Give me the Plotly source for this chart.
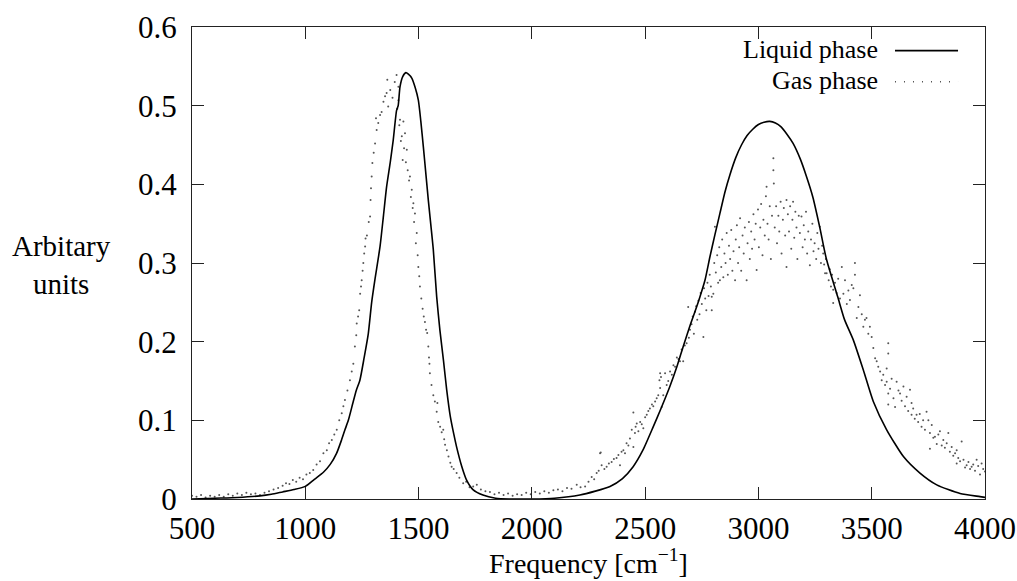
import plotly.graph_objects as go

# ---------------- data ----------------
liquid_x = [500, 600, 700, 800, 850, 900, 950, 1000, 1040, 1080, 1110, 1138, 1160, 1175, 1190,
            1210, 1225, 1241, 1260, 1278, 1293, 1308, 1330, 1345, 1359, 1375, 1388, 1403, 1410,
            1418, 1430, 1444, 1455, 1470, 1485, 1499, 1510, 1521, 1532, 1543, 1555, 1565, 1580,
            1594, 1610, 1624, 1640, 1655, 1668, 1690, 1712, 1740, 1784, 1840, 1900, 2000, 2100,
            2212, 2280, 2345, 2400, 2447, 2490, 2536, 2570, 2609, 2640, 2668, 2700, 2727, 2742,
            2764, 2786, 2808, 2830, 2852, 2874, 2900, 2925, 2950, 2975, 3000, 3025, 3050, 3075,
            3100, 3125, 3153, 3185, 3212, 3240, 3271, 3300, 3350, 3380, 3419, 3463, 3507, 3566, 3640,
            3713, 3787, 3890, 3978, 4000]
liquid_y = [0.000, 0.001, 0.002, 0.004, 0.006, 0.009, 0.012, 0.016, 0.025, 0.034, 0.044, 0.058, 0.075, 0.088, 0.100,
            0.122, 0.138, 0.151, 0.180, 0.210, 0.250, 0.280, 0.321, 0.360, 0.397, 0.428, 0.456, 0.494, 0.500,
            0.524, 0.537, 0.542, 0.540, 0.535, 0.523, 0.507, 0.480, 0.448, 0.414, 0.380, 0.346, 0.317, 0.257,
            0.215, 0.176, 0.139, 0.105, 0.083, 0.066, 0.042, 0.024, 0.012, 0.005, 0.001, 0.000, 0.000, 0.001,
            0.005, 0.010, 0.016, 0.026, 0.041, 0.062, 0.092, 0.115, 0.143, 0.168, 0.194, 0.222, 0.244, 0.257,
            0.278, 0.308, 0.336, 0.363, 0.390, 0.412, 0.434, 0.450, 0.462, 0.470, 0.476, 0.479, 0.480, 0.478,
            0.473, 0.464, 0.452, 0.432, 0.410, 0.384, 0.345, 0.305, 0.257, 0.228, 0.202, 0.164, 0.124, 0.088, 0.054,
            0.033, 0.018, 0.007, 0.003, 0.002]

gas_x = [500, 520, 540, 560, 580, 600, 620, 640, 660, 680, 700, 720, 740, 760, 780, 800, 820, 840, 860, 880,
         900, 915, 930, 945, 960, 975, 990, 1005, 1020, 1035, 1050, 1065, 1080, 1095, 1105, 1117, 1128, 1139, 1150, 1161,
         1168, 1175, 1186, 1197, 1205, 1212, 1219, 1225, 1227, 1233, 1238, 1242, 1246, 1249, 1253, 1256, 1260, 1264, 1266, 1272,
         1280, 1286, 1288, 1290, 1293, 1296, 1302, 1308, 1315, 1312, 1322, 1330, 1337, 1345, 1352, 1359, 1362, 1366, 1375, 1385,
         1395, 1403, 1406, 1411, 1411, 1415, 1418, 1422, 1426, 1430, 1433, 1436, 1440, 1444, 1448, 1452, 1458, 1462, 1466, 1470,
         1474, 1477, 1480, 1484, 1488, 1492, 1496, 1499, 1503, 1506, 1512, 1518, 1523, 1528, 1533, 1538, 1543, 1546, 1548, 1550,
         1557, 1565, 1572, 1580, 1583, 1587, 1595, 1602, 1609, 1613, 1617, 1625, 1632, 1640, 1646, 1655, 1668, 1680, 1697, 1710,
         1725, 1741, 1757, 1775, 1795, 1815, 1835, 1855, 1875, 1895, 1915, 1935, 1955, 1975, 1995, 2015, 2035, 2055, 2075, 2095,
         2115, 2135, 2155, 2175, 2198, 2215, 2235, 2250, 2264, 2275, 2286, 2295, 2301, 2304, 2308, 2320, 2330, 2340, 2352, 2362,
         2374, 2382, 2389, 2396, 2404, 2411, 2418, 2426, 2433, 2441, 2448, 2448, 2455, 2458, 2463, 2470, 2478, 2485, 2492, 2500,
         2507, 2514, 2521, 2530, 2536, 2544, 2551, 2558, 2563, 2566, 2566, 2570, 2573, 2580, 2588, 2595, 2602, 2610, 2618, 2625,
         2632, 2640, 2647, 2654, 2661, 2668, 2675, 2683, 2690, 2693, 2698, 2705, 2710, 2715, 2720, 2725, 2730, 2735, 2740, 2745,
         2750, 2757, 2760, 2765, 2770, 2775, 2780, 2785, 2790, 2794, 2794, 2801, 2805, 2808, 2812, 2818, 2822, 2827, 2830, 2836,
         2840, 2845, 2850, 2855, 2860, 2865, 2870, 2875, 2880, 2885, 2890, 2897, 2900, 2905, 2910, 2915, 2919, 2924, 2930, 2935,
         2940, 2948, 2952, 2958, 2962, 2968, 2972, 2978, 2983, 2988, 2992, 2998, 3002, 3008, 3012, 3018, 3022, 3028, 3033, 3036,
         3040, 3045, 3050, 3055, 3060, 3066, 3066, 3068, 3072, 3078, 3082, 3088, 3092, 3098, 3102, 3108, 3112, 3118, 3124, 3124,
         3130, 3135, 3140, 3145, 3150, 3153, 3158, 3163, 3168, 3172, 3178, 3183, 3190, 3195, 3200, 3205, 3210, 3215, 3220, 3227,
         3232, 3238, 3243, 3248, 3255, 3260, 3265, 3271, 3276, 3281, 3286, 3290, 3294, 3298, 3301, 3310, 3315, 3320, 3325, 3330,
         3330, 3338, 3345, 3352, 3360, 3368, 3375, 3382, 3390, 3397, 3404, 3412, 3419, 3426, 3426, 3434, 3441, 3448, 3456, 3463,
         3470, 3477, 3485, 3492, 3500, 3507, 3515, 3522, 3529, 3537, 3544, 3551, 3559, 3566, 3566, 3573, 3573, 3573, 3573, 3581,
         3588, 3596, 3603, 3610, 3618, 3625, 3632, 3640, 3647, 3654, 3661, 3669, 3676, 3676, 3683, 3690, 3698, 3705, 3712, 3720,
         3727, 3735, 3742, 3750, 3757, 3757, 3765, 3772, 3779, 3787, 3794, 3801, 3809, 3816, 3823, 3831, 3838, 3845, 3853, 3860,
         3868, 3875, 3875, 3882, 3890, 3897, 3905, 3912, 3919, 3927, 3934, 3941, 3948, 3956, 3963, 3970, 3978, 3985, 3992, 4000]
gas_y = [0.004, 0.003, 0.005, 0.002, 0.004, 0.003, 0.005, 0.003, 0.006, 0.004, 0.007, 0.005, 0.008, 0.006, 0.007, 0.005, 0.008, 0.010, 0.012, 0.014,
         0.017, 0.020, 0.019, 0.024, 0.022, 0.027, 0.025, 0.031, 0.033, 0.037, 0.044, 0.048, 0.058, 0.062, 0.071, 0.075, 0.082, 0.088, 0.100, 0.109,
         0.118, 0.126, 0.138, 0.151, 0.162, 0.172, 0.194, 0.208, 0.223, 0.232, 0.240, 0.261, 0.270, 0.278, 0.290, 0.300, 0.312, 0.321, 0.331, 0.335,
         0.352, 0.359, 0.380, 0.395, 0.410, 0.427, 0.440, 0.452, 0.469, 0.484, 0.478, 0.488, 0.492, 0.505, 0.512, 0.516, 0.533, 0.499, 0.520, 0.510,
         0.530, 0.539, 0.496, 0.524, 0.507, 0.475, 0.482, 0.455, 0.461, 0.431, 0.480, 0.446, 0.465, 0.428, 0.444, 0.418, 0.405, 0.410, 0.384, 0.393,
         0.370, 0.376, 0.352, 0.363, 0.325, 0.338, 0.310, 0.295, 0.283, 0.270, 0.255, 0.242, 0.232, 0.225, 0.215, 0.211, 0.194, 0.180, 0.172, 0.160,
         0.145, 0.132, 0.124, 0.111, 0.122, 0.098, 0.092, 0.085, 0.088, 0.076, 0.069, 0.062, 0.054, 0.046, 0.041, 0.038, 0.033, 0.027, 0.020, 0.022,
         0.015, 0.016, 0.018, 0.012, 0.010, 0.009, 0.006, 0.008, 0.005, 0.007, 0.004, 0.006, 0.005, 0.008, 0.006, 0.009, 0.007, 0.010, 0.008, 0.011,
         0.012, 0.010, 0.014, 0.013, 0.018, 0.015, 0.016, 0.022, 0.028, 0.025, 0.033, 0.036, 0.058, 0.059, 0.043, 0.038, 0.041, 0.045, 0.047, 0.051,
         0.052, 0.056, 0.043, 0.060, 0.062, 0.058, 0.071, 0.068, 0.077, 0.088, 0.066, 0.110, 0.084, 0.092, 0.096, 0.086, 0.098, 0.095, 0.090, 0.104,
         0.107, 0.112, 0.115, 0.120, 0.118, 0.124, 0.128, 0.132, 0.151, 0.141, 0.160, 0.155, 0.117, 0.132, 0.160, 0.145, 0.150, 0.162, 0.158, 0.170,
         0.168, 0.180, 0.178, 0.175, 0.190, 0.175, 0.195, 0.198, 0.244, 0.205, 0.215, 0.222, 0.232, 0.210, 0.238, 0.245, 0.228, 0.252, 0.235, 0.262,
         0.248, 0.206, 0.268, 0.255, 0.240, 0.275, 0.258, 0.285, 0.270, 0.257, 0.240, 0.261, 0.300, 0.346, 0.288, 0.310, 0.275, 0.320, 0.278, 0.295,
         0.330, 0.282, 0.312, 0.300, 0.338, 0.285, 0.322, 0.305, 0.342, 0.290, 0.315, 0.278, 0.330, 0.348, 0.300, 0.320, 0.357, 0.290, 0.335, 0.312,
         0.345, 0.278, 0.325, 0.352, 0.305, 0.340, 0.318, 0.362, 0.330, 0.350, 0.291, 0.368, 0.320, 0.345, 0.375, 0.310, 0.355, 0.335, 0.385, 0.397,
         0.350, 0.330, 0.372, 0.305, 0.360, 0.433, 0.418, 0.401, 0.345, 0.372, 0.325, 0.360, 0.340, 0.378, 0.312, 0.355, 0.370, 0.335, 0.380, 0.295,
         0.362, 0.340, 0.372, 0.318, 0.355, 0.378, 0.332, 0.365, 0.345, 0.305, 0.360, 0.338, 0.359, 0.320, 0.348, 0.330, 0.365, 0.312, 0.340, 0.297,
         0.330, 0.350, 0.315, 0.325, 0.305, 0.338, 0.318, 0.346, 0.300, 0.322, 0.312, 0.298, 0.287, 0.305, 0.287, 0.278, 0.292, 0.270, 0.285, 0.266,
         0.249, 0.275, 0.262, 0.280, 0.255, 0.295, 0.261, 0.278, 0.248, 0.265, 0.253, 0.272, 0.268, 0.300, 0.285, 0.230, 0.244, 0.259, 0.235, 0.219,
         0.228, 0.230, 0.210, 0.219, 0.206, 0.192, 0.179, 0.175, 0.168, 0.162, 0.151, 0.158, 0.145, 0.166, 0.149, 0.198, 0.185, 0.134, 0.120, 0.140,
         0.153, 0.128, 0.117, 0.149, 0.138, 0.134, 0.125, 0.143, 0.118, 0.130, 0.112, 0.139, 0.122, 0.107, 0.115, 0.102, 0.107, 0.098, 0.108, 0.092,
         0.100, 0.088, 0.111, 0.100, 0.084, 0.064, 0.094, 0.078, 0.079, 0.070, 0.082, 0.086, 0.068, 0.075, 0.065, 0.071, 0.084, 0.060, 0.066, 0.055,
         0.058, 0.062, 0.045, 0.052, 0.048, 0.073, 0.050, 0.040, 0.043, 0.047, 0.038, 0.041, 0.044, 0.036, 0.050, 0.042, 0.031, 0.045, 0.038, 0.035]

x_ticks = [500, 1000, 1500, 2000, 2500, 3000, 3500, 4000]
y_ticks = [0, 0.1, 0.2, 0.3, 0.4, 0.5, 0.6]
series_names = ["Liquid phase", "Gas phase"]

FONT = "Liberation Serif"

fig = go.Figure()
fig.add_trace(go.Scatter(x=gas_x, y=gas_y, mode="markers", name=series_names[1],
                         marker=dict(size=2, color="#555555", line=dict(width=0)),
                         showlegend=False))
fig.add_trace(go.Scatter(x=liquid_x, y=liquid_y, mode="lines", name=series_names[0],
                         line=dict(color="black", width=1.6, shape="spline", smoothing=0.6),
                         showlegend=False))

axis_common = dict(showgrid=False, zeroline=False, showline=True, mirror="allticks",
                   linecolor="#222222", linewidth=1.2, ticks="inside", ticklen=12,
                   tickwidth=1, tickcolor="#222222",
                   tickfont=dict(family=FONT, size=31, color="black"))

fig.update_xaxes(range=[500, 4000], tickvals=x_ticks, ticktext=[str(v) for v in x_ticks],
                 ticklabelstandoff=2, **axis_common)
fig.update_yaxes(range=[0, 0.6], tickvals=y_ticks, ticktext=[f"{v:g}" for v in y_ticks],
                 ticklabelstandoff=8, **axis_common)

# legend drawn gnuplot-style (text left of sample)
leg_rows = [0.953, 0.887]
annotations = [
    dict(text=series_names[0], xref="paper", yref="paper", x=0.8676, y=leg_rows[0],
         xanchor="right", yanchor="middle", showarrow=False,
         font=dict(family=FONT, size=26, color="black")),
    dict(text=series_names[1], xref="paper", yref="paper", x=0.8676, y=leg_rows[1],
         xanchor="right", yanchor="middle", showarrow=False,
         font=dict(family=FONT, size=26, color="black")),
    dict(text="Arbitary<br>units", xref="paper", yref="paper", x=-0.164, y=0.496,
         xanchor="center", yanchor="middle", align="center", showarrow=False,
         font=dict(family=FONT, size=29, color="black")),
    dict(text="Frequency [cm<sup>−1</sup>]", xref="paper", yref="paper", x=0.5, y=-0.132,
         xanchor="center", yanchor="middle", showarrow=False,
         font=dict(family=FONT, size=28, color="black")),
]
shapes = [
    dict(type="line", xref="paper", yref="paper", x0=0.8865, x1=0.966,
         y0=leg_rows[0] - 0.003, y1=leg_rows[0] - 0.003, line=dict(color="black", width=1.6)),
    dict(type="line", xref="paper", yref="paper", x0=0.8865, x1=0.966,
         y0=leg_rows[1] - 0.003, y1=leg_rows[1] - 0.003,
         line=dict(color="#555555", width=1.5, dash="1px,8px")),
]

fig.update_layout(width=1017, height=581, paper_bgcolor="white", plot_bgcolor="white",
                  margin=dict(l=192, r=32, t=27, b=82, autoexpand=False),
                  annotations=annotations, shapes=shapes, showlegend=False,
                  font=dict(family=FONT, color="black"))

fig.write_html("out.html")
